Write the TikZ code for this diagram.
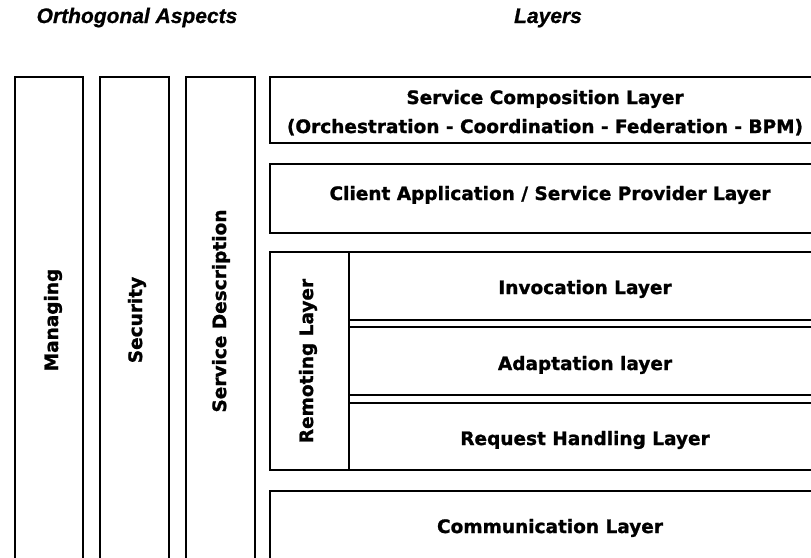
\documentclass[tikz,border=0pt]{standalone}
\usepackage{fontspec}
\setmainfont{DejaVu Sans}
\newfontfamily\layerfont[FakeBold=1.2]{DejaVu Sans Bold}
\newfontfamily\headfont[FakeBold=0.8]{Liberation Sans Bold Italic}
\begin{document}
\begin{tikzpicture}[x=1pt,y=-1pt,
    box/.style={draw,line width=2pt},
    layertext/.style={font=\layerfont\fontsize{18.5}{29}\selectfont,align=center,inner sep=0pt},
    aspecttext/.style={layertext,rotate=90},
    headtext/.style={font=\headfont\fontsize{21}{24}\selectfont,inner sep=0pt}]
  \useasboundingbox (0,0) rectangle (811,557);
  \clip (0,0) rectangle (811,557);
  % headings
  \node[headtext,anchor=base] (hAspects) at (137,23) {Orthogonal Aspects};
  \node[headtext,anchor=base] (hLayers) at (548,23) {Layers};
  % orthogonal aspects
  \draw[box] (15,77) rectangle (83,580);
  \draw[box] (100,77) rectangle (169,580);
  \draw[box] (186,77) rectangle (255,580);
  \node[aspecttext] (managing) at (53,320) {Managing};
  \node[aspecttext] (security) at (137,320) {Security};
  \node[aspecttext] (servdesc) at (221,311) {Service Description};
  % layers
  \draw[box] (270,77) rectangle (830,143);
  \draw[box] (270,164) rectangle (830,233);
  \draw[box] (270,252) rectangle (349,470);
  \draw[box] (349,252) rectangle (830,320);
  \draw[box] (349,327) rectangle (830,395);
  \draw[box] (349,403) rectangle (830,470);
  \draw[box] (270,491) rectangle (830,580);
  \node[layertext,anchor=base] (composition) at (545,133)
    {Service Composition Layer\\(Orchestration - Coordination - Federation - BPM)};
  \node[layertext,anchor=base] (client) at (550,200) {Client Application / Service Provider Layer};
  \node[aspecttext] (remoting) at (308,361) {Remoting Layer};
  \node[layertext,anchor=base] (invocation) at (585,294) {Invocation Layer};
  \node[layertext,anchor=base] (adaptation) at (585,370) {Adaptation layer};
  \node[layertext,anchor=base] (request) at (585,445) {Request Handling Layer};
  \node[layertext,anchor=base] (communication) at (550,533) {Communication Layer};
\end{tikzpicture}
\end{document}
